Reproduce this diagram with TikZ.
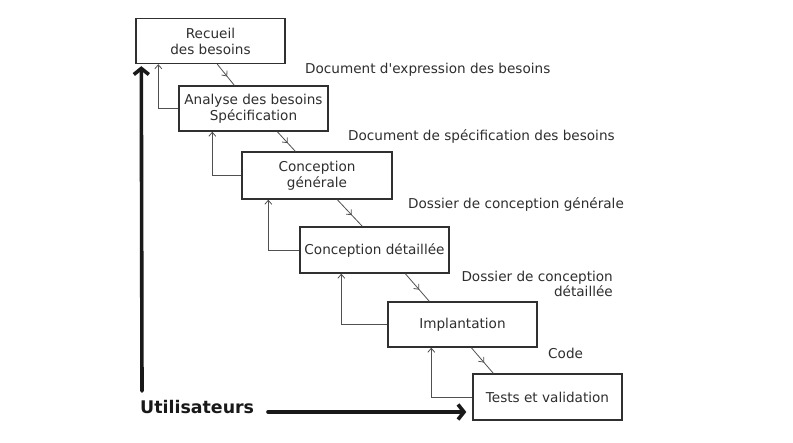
\documentclass[tikz,border=0pt]{standalone}
\usepackage{fontspec}
\setmainfont{DejaVu Sans}[Ligatures=TeXOff]
\usetikzlibrary{arrows.meta,decorations.markings}
\definecolor{txt}{HTML}{2E2E2E}
\definecolor{boxc}{HTML}{303030}
\definecolor{thin}{HTML}{505050}
\begin{document}
\begin{tikzpicture}[x=1pt,y=-1pt,
  stage/.style={draw=boxc,line width=1.4pt,fill=white,text=txt,align=center,
    minimum width=149pt,minimum height=45pt,inner sep=1pt,
    font=\fontsize{13.6}{16}\selectfont},
  lbl/.style={text=txt,font=\fontsize{13.6}{15}\selectfont,inner sep=0pt},
  fwd/.style={draw=thin,line width=0.8pt,postaction={decorate},
    decoration={markings,mark=at position 0.58 with {\arrow{Straight Barb[length=4pt,width=7pt,line width=0.8pt]}}}},
  back/.style={draw=thin,line width=0.8pt,-{Straight Barb[length=4pt,width=7pt,line width=0.8pt]}},
  bigarrow/.style={draw=black!90,line width=3.6pt,line cap=round,line join=round,
    -{Straight Barb[length=6pt,width=15pt,line width=3.6pt]}}]
\useasboundingbox[fill=white] (0,0) rectangle (793,443);

\node[stage] (b1) at (210.5,41) {Recueil\\des besoins};
\node[stage] (b2) at (253.5,108.5) {Analyse des besoins\\Spécification};
\node[stage,minimum width=150pt,minimum height=47pt] (b3) at (317,175.5) {Conception\\générale};
\node[stage,minimum height=46pt] (b4) at (374.5,250) {Conception détaillée};
\node[stage] (b5) at (462.5,324.5) {Implantation};
\node[stage,minimum height=46pt] (b6) at (547.5,397) {Tests et validation};

% forward arrows
\draw[fwd] ([xshift=82pt]b1.south west) -- ([xshift=56pt]b2.north west);
\draw[fwd] ([xshift=99pt]b2.south west) -- ([xshift=54pt]b3.north west);
\draw[fwd] ([xshift=96pt]b3.south west) -- ([xshift=63pt]b4.north west);
\draw[fwd] ([xshift=106pt]b4.south west) -- ([xshift=42pt]b5.north west);
\draw[fwd] ([xshift=84pt]b5.south west) -- ([xshift=21pt]b6.north west);

% back arrows
\draw[back] (b2.west) -| ([xshift=23pt]b1.south west);
\draw[back] (b3.west) -| ([xshift=34pt]b2.south west);
\draw[back] (b4.west) -| ([xshift=27pt]b3.south west);
\draw[back] (b5.west) -| ([xshift=42pt]b4.south west);
\draw[back] (b6.west) -| ([xshift=44pt]b5.south west);

% labels
\node[lbl,anchor=west] (l1) at (305,70) {Document d'expression des besoins};
\node[lbl,anchor=west] (l2) at (348,136) {Document de spécification des besoins};
\node[lbl,anchor=west] (l3) at (408,204) {Dossier de conception générale};
\node[lbl,anchor=east,align=right] (l4) at (613,284) {Dossier de conception\\détaillée};
\node[lbl,anchor=west] (l5) at (548,353) {Code};

% users
\node[text=black!90,anchor=west,inner sep=0pt,font=\fontsize{17.4}{20}\bfseries] (u) at (140,407) {Utilisateurs};
\coordinate (v0) at (142,391);
\coordinate (h0) at (268,412);
\draw[bigarrow] (v0) -- ([xshift=6pt,yshift=-2pt]b1.south west);
\draw[bigarrow] (h0) -- ([xshift=-6pt,yshift=-15pt]b6.west);
\end{tikzpicture}
\end{document}
